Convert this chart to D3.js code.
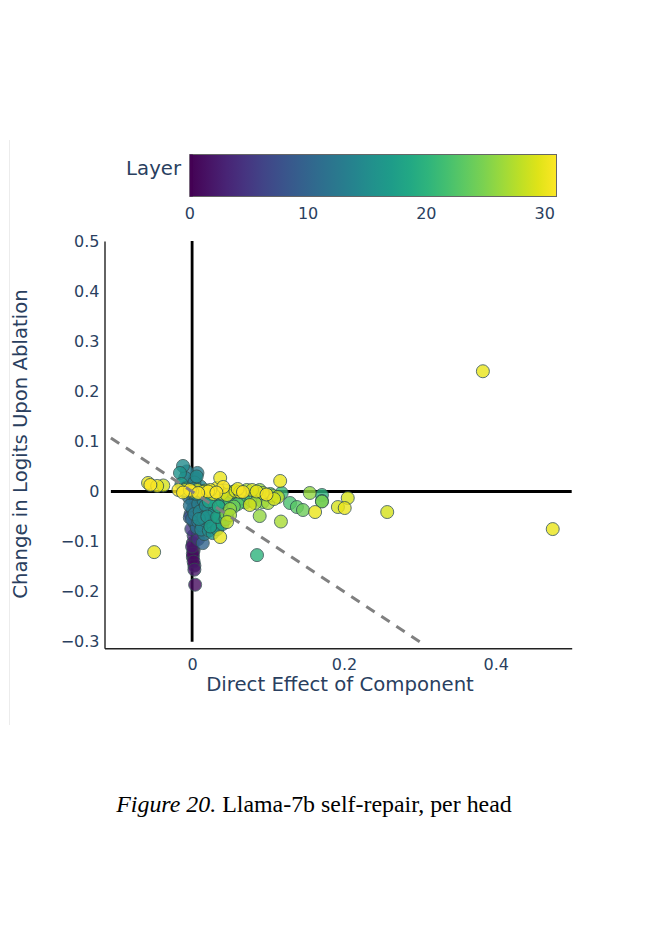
<!DOCTYPE html>
<html>
<head>
<meta charset="utf-8">
<script src="https://cdn.jsdelivr.net/npm/d3@7"></script>
<style>
  body { margin: 0; background: #fff; }
  svg { display: block; }
  .lbl { font-family: "DejaVu Sans", sans-serif; fill: #2a3f5f; }
</style>
</head>
<body>
<svg id="chart" width="653" height="951"></svg>
<script>
// Per-head self-repair for Llama-7b: [layer, direct effect, change in logits upon ablation]
const heads = [
  [0, 0.002, -0.117], [0, 0.001, -0.131], [0, 0.003, -0.148],
  [1, 0.001, -0.103], [1, 0.001, -0.124], [1, 0.002, -0.140], [1, 0.004, -0.186],
  [2, 0.003, -0.156], [2, 0.000, -0.110],
  [3, 0.002, -0.088],
  [4, 0.008, -0.095],
  [5, -0.001, -0.075],
  [6, 0.003, -0.062],
  [7, -0.002, -0.045],
  [8, -0.003, -0.052], [8, 0.004, -0.030],
  [9, 0.001, -0.020], [9, 0.006, -0.068],
  [10, 0.014, -0.103], [10, 0.002, -0.008],
  [11, -0.004, -0.012], [11, 0.005, -0.050], [11, 0.006, -0.072], [11, 0.000, -0.055],
  [12, 0.004, 0.027], [12, 0.005, -0.015], [12, 0.001, -0.036], [12, 0.008, -0.060],
  [12, 0.012, -0.030], [12, -0.003, -0.028], [12, 0.010, 0.002],
  [13, 0.007, 0.037], [13, -0.005, 0.013], [13, 0.008, -0.025], [13, 0.020, -0.040], [13, 0.018, -0.065],
  [13, 0.016, -0.085], [13, 0.003, -0.045], [13, 0.013, -0.068], [13, -0.007, 0.040],
  [14, -0.009, 0.027], [14, 0.011, 0.010], [14, 0.015, -0.018], [14, 0.010, -0.040], [14, 0.025, -0.055],
  [14, 0.012, -0.076], [14, 0.017, -0.058], [14, 0.022, -0.035], [14, 0.036, -0.065], [14, 0.003, 0.018],
  [15, -0.012, 0.051], [15, 0.002, 0.005], [15, 0.018, -0.028], [15, 0.015, -0.052], [15, 0.022, -0.078],
  [15, 0.009, -0.055], [15, 0.030, -0.060], [15, 0.006, 0.030],
  [16, -0.016, 0.037], [16, 0.015, 0.000], [16, 0.025, -0.010], [16, 0.030, -0.040], [16, 0.028, -0.068],
  [16, 0.027, -0.083], [16, 0.020, -0.050], [16, 0.038, -0.045], [16, 0.006, -0.005],
  [17, -0.014, 0.015], [17, 0.030, -0.025], [17, 0.035, -0.052], [17, 0.033, -0.075], [17, 0.024, -0.070],
  [17, 0.045, -0.028],
  [18, -0.010, 0.000], [18, 0.042, -0.035], [18, 0.040, -0.065], [18, 0.033, -0.051], [18, 0.022, -0.020],
  [19, 0.040, -0.020], [19, 0.046, -0.048], [19, 0.035, -0.030],
  [20, 0.0855, -0.127], [20, 0.171, -0.007], [20, -0.008, 0.006], [20, 0.044, -0.055], [20, 0.055, -0.010],
  [21, 0.061, -0.017], [21, 0.118, -0.003], [21, 0.171, -0.019], [21, 0.070, -0.022],
  [22, 0.067, -0.013], [22, 0.129, -0.023], [22, 0.050, -0.018], [22, 0.078, -0.018],
  [23, 0.138, -0.031], [23, 0.087, -0.008], [23, 0.060, -0.025],
  [24, 0.146, -0.037], [24, 0.103, -0.005], [24, 0.055, -0.030],
  [25, 0.093, -0.021], [25, 0.171, -0.020], [25, 0.045, -0.045],
  [26, 0.089, -0.049], [26, 0.089, 0.003], [26, 0.155, -0.003], [26, 0.050, -0.035],
  [27, 0.117, -0.060], [27, 0.083, -0.023], [27, 0.100, -0.023], [27, 0.072, 0.003], [27, 0.050, -0.047],
  [27, 0.105, -0.008],
  [28, 0.053, -0.001], [28, 0.113, -0.011], [28, 0.093, -0.003], [28, 0.046, -0.061], [28, 0.044, 0.002],
  [28, 0.039, -0.004],
  [29, -0.038, 0.012], [29, 0.007, 0.003], [29, 0.046, -0.007], [29, 0.079, 0.003], [29, 0.076, -0.027],
  [29, 0.108, -0.015], [29, 0.192, -0.031], [29, 0.205, -0.013], [29, 0.257, -0.041], [29, 0.018, 0.002],
  [29, 0.057, 0.001],
  [30, -0.058, 0.017], [30, -0.046, 0.011], [30, -0.050, -0.121], [30, -0.009, 0.003], [30, 0.014, -0.001],
  [30, 0.033, 0.007], [30, 0.037, 0.027], [30, 0.063, -0.001], [30, 0.116, 0.021], [30, 0.037, -0.091],
  [30, 0.162, -0.041], [30, 0.201, -0.033], [30, 0.383, 0.240], [30, 0.475, -0.075], [30, 0.028, -0.005],
  [30, 0.060, 0.005], [30, 0.000, 0.000], [30, 0.024, 0.003], [30, 0.085, 0.000],
  [31, -0.055, 0.013], [31, -0.018, 0.003], [31, -0.003, 0.003], [31, 0.041, 0.009], [31, 0.067, -0.001],
  [31, 0.021, 0.000], [31, -0.012, -0.002], [31, 0.008, -0.003], [31, 0.032, -0.002], [31, 0.098, -0.006]
];

const xTicks = [0, 0.2, 0.4];
const yTicks = [-0.3, -0.2, -0.1, 0, 0.1, 0.2, 0.3, 0.4, 0.5];
const layerTicks = [0, 10, 20, 30];
const layerRange = [0, 31];
const xLineRange = [-0.107, 0.5];   // horizontal zero line extent
const yLineRange = [-0.3, 0.5];     // vertical zero line extent
const diagRange = [-0.107, 0.3];    // y = -x reference line extent

const svg = d3.select("#chart");

const x = d3.scaleLinear().domain([-0.1154, 0.5]).range([104.5, 571.7]);
const y = d3.scaleLinear().domain([-0.313, 0.5]).range([648.3, 241]);
const color = d3.scaleSequential(d3.interpolateViridis).domain(layerRange);

const fmt = d => (Math.abs(d) < 1e-9 ? "0" : d3.format(".1f")(d));

// faint frame edge on the left
svg.append("line")
  .attr("x1", 9.5).attr("x2", 9.5).attr("y1", 140).attr("y2", 725)
  .attr("stroke", "#ececec").attr("stroke-width", 1);

// axes
const yAxis = svg.append("g")
  .attr("transform", `translate(${x.range()[0]},0)`)
  .call(d3.axisLeft(y).tickValues(yTicks).tickFormat(fmt).tickSize(0).tickPadding(5));
const xAxis = svg.append("g")
  .attr("transform", `translate(0,${y.range()[0]})`)
  .call(d3.axisBottom(x).tickValues(xTicks).tickFormat(fmt).tickSize(0).tickPadding(10));
[xAxis, yAxis].forEach(g => {
  g.select(".domain").attr("stroke", "#222").attr("stroke-width", 1.4);
  g.selectAll("text").attr("class", "lbl").style("font-size", "16px");
});

// zero lines
svg.append("line")
  .attr("x1", x(0)).attr("x2", x(0))
  .attr("y1", y(yLineRange[1])).attr("y2", y(yLineRange[0]))
  .attr("stroke", "#000").attr("stroke-width", 2.8);
svg.append("line")
  .attr("x1", x(xLineRange[0])).attr("x2", x(xLineRange[1]))
  .attr("y1", y(0)).attr("y2", y(0))
  .attr("stroke", "#000").attr("stroke-width", 2.8);

// heads, coloured by layer
svg.append("g")
  .selectAll("circle")
  .data(heads.slice().sort((a, b) => a[0] - b[0]))
  .join("circle")
  .attr("cx", d => x(d[1]))
  .attr("cy", d => y(d[2]))
  .attr("r", 6.5)
  .attr("fill", d => color(d[0]))
  .attr("stroke", "#2f4f4f")
  .attr("stroke-width", 1)
  .attr("opacity", 0.8);

// y = -x reference
svg.append("line")
  .attr("x1", x(diagRange[0])).attr("y1", y(-diagRange[0]))
  .attr("x2", x(diagRange[1])).attr("y2", y(-diagRange[1]))
  .attr("stroke", "#808080").attr("stroke-width", 3)
  .attr("stroke-dasharray", "10,8");

// axis titles
svg.append("text").attr("class", "lbl")
  .attr("x", 340).attr("y", 691)
  .attr("text-anchor", "middle").style("font-size", "19.7px")
  .text("Direct Effect of Component");
svg.append("text").attr("class", "lbl")
  .attr("transform", "translate(26.5,444) rotate(-90)")
  .attr("text-anchor", "middle").style("font-size", "19.7px")
  .text("Change in Logits Upon Ablation");

// colour bar
const cb = d3.scaleLinear().domain(layerRange).range([189.8, 556.5]);
const grad = svg.append("defs").append("linearGradient")
  .attr("id", "viridis").attr("x1", "0%").attr("x2", "100%");
d3.range(0, 1.0001, 0.05).forEach(t => {
  grad.append("stop").attr("offset", `${t * 100}%`).attr("stop-color", d3.interpolateViridis(t));
});
svg.append("rect")
  .attr("x", cb(layerRange[0])).attr("y", 154.5)
  .attr("width", cb(layerRange[1]) - cb(layerRange[0])).attr("height", 42)
  .attr("fill", "url(#viridis)")
  .attr("stroke", "#666").attr("stroke-width", 1);
svg.append("rect")
  .attr("x", cb(layerRange[0])).attr("y", 154.5)
  .attr("width", 3).attr("height", 42)
  .attr("fill", color(0));
svg.append("g").selectAll("text")
  .data(layerTicks).join("text").attr("class", "lbl")
  .attr("x", d => cb(d)).attr("y", 219)
  .attr("text-anchor", "middle").style("font-size", "16px")
  .text(d => d);
svg.append("text").attr("class", "lbl")
  .attr("x", 181).attr("y", 175)
  .attr("text-anchor", "end").style("font-size", "19.7px")
  .text("Layer");

// caption
const cap = svg.append("text")
  .attr("x", 314).attr("y", 811.5)
  .attr("text-anchor", "middle")
  .style("font-family", "'Liberation Serif', 'Times New Roman', serif")
  .style("font-size", "23.9px").style("fill", "#000");
cap.append("tspan").style("font-style", "italic").text("Figure 20.");
cap.append("tspan").text(" Llama-7b self-repair, per head");
</script>
</body>
</html>
